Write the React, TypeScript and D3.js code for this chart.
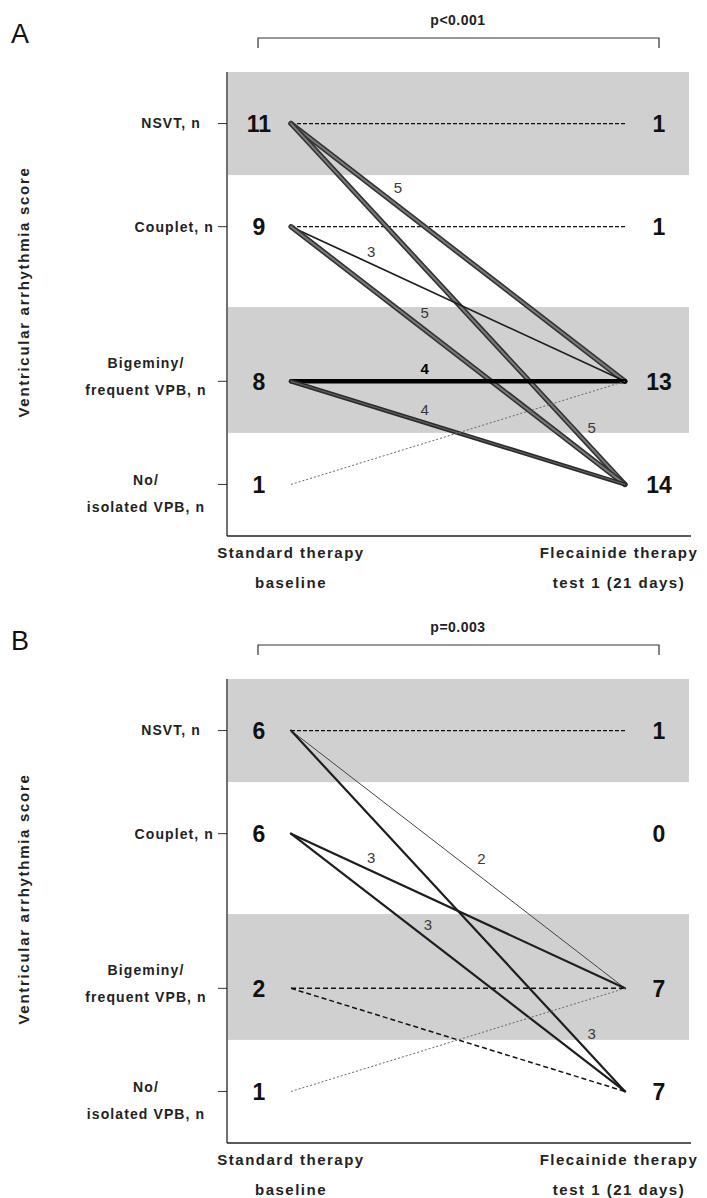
import * as d3 from "d3";

// categories, top to bottom
const categories = ["NSVT, n", "Couplet, n", "Bigeminy/\nfrequent VPB, n", "No/\nisolated VPB, n"];
const scoreLevels = [3.5, 2.5, 1, 0];
const timepoints = ["Standard therapy\nbaseline", "Flecainide therapy\ntest 1 (21 days)"];
const axisTitle = "Ventricular arrhythmia score";

// panel A
const baselineA = [11, 9, 8, 1];
const testA = [1, 1, 13, 14];
const flowsA = [
  [0, 0, 1],
  [1, 1, 1],
  [0, 2, 5],
  [0, 3, 5],
  [1, 2, 3],
  [1, 3, 5],
  [2, 2, 4],
  [2, 3, 4],
  [3, 2, 1],
];
const pA = "p<0.001";

// panel B
const baselineB = [6, 6, 2, 1];
const testB = [1, 0, 7, 7];
const flowsB = [
  [0, 0, 1],
  [0, 2, 2],
  [0, 3, 3],
  [1, 2, 3],
  [1, 3, 3],
  [2, 2, 1],
  [2, 3, 1],
  [3, 2, 1],
];
const pB = "p=0.003";

// shaded bands in score units
const bands = [
  [3, 4],
  [0.5, 1.72],
];

// line looks
const looks = {
  dash: [{ stroke: "#111", w: 1.3, dash: "4 2" }],
  dashB: [{ stroke: "#111", w: 1.5, dash: "5 3" }],
  dot: [{ stroke: "#666", w: 1, dash: "2 2" }],
  heavy: [
    { stroke: "#333", w: 5.2 },
    { stroke: "#7a7a7a", w: 2 },
  ],
  heavyDark: [
    { stroke: "#2a2a2a", w: 4.3 },
    { stroke: "#5e5e5e", w: 1.2 },
  ],
  black: [{ stroke: "#000", w: 4.5 }],
  thin: [{ stroke: "#1e1e1e", w: 1.7 }],
  hair: [{ stroke: "#444", w: 1 }],
  medium: [{ stroke: "#1e1e1e", w: 2.2 }],
};
const looksA = ["dash", "dash", "heavy", "heavy", "thin", "heavy", "black", "heavyDark", "dot"];
const looksB = ["dash", "hair", "medium", "medium", "medium", "dashB", "dashB", "dot"];
// where the count label sits along each line [t, dy]
const labelAtA = [null, null, [0.32, -18], [0.9, -21], [0.24, -12], [0.4, -17], [0.4, -13], [0.4, -13], null];
const labelAtB = [null, [0.57, -19], [0.9, -22], [0.24, -13], [0.41, -15], null, null, null];

const font = "'Liberation Sans', Arial, sans-serif";

const x = d3.scalePoint<number>().domain([0, 1]).range([291, 625]);
const y = d3.scaleLinear().domain([-0.5, 4]).range([536, 72]);
const axisX = 227;
const plotRight = 689;

function Panel({ letter, pText, baseline, test, flows, lookKeys, labelAt, dy }) {
  const y0 = y(4);
  const y1 = y(-0.5);
  return (
    <g transform={`translate(0,${dy})`} fontFamily={font}>
      <text x={11} y={43} fontSize={27} fill="#111">
        {letter}
      </text>
      <text x={458} y={25} fontSize={14} fontWeight="bold" textAnchor="middle" fill="#222" letterSpacing={0.5}>
        {pText}
      </text>
      <path d={`M258,48V38H659V48`} fill="none" stroke="#333" strokeWidth={1.2} />

      {bands.map(([a, b], i) => (
        <rect key={i} x={axisX + 1} y={y(b)} width={plotRight - axisX - 1} height={y(a) - y(b)} fill="#d0d0d0" />
      ))}

      {flows.map(([f, t], i) =>
        looks[lookKeys[i]].map((s, j) => (
          <line
            key={`${i}-${j}`}
            x1={x(0)}
            y1={y(scoreLevels[f])}
            x2={x(1)}
            y2={y(scoreLevels[t])}
            stroke={s.stroke}
            strokeWidth={s.w}
            strokeDasharray={s.dash}
            strokeLinecap={s.dash ? "butt" : "round"}
          />
        )),
      )}

      {flows.map(([f, t, n], i) => {
        const at = labelAt[i];
        if (!at) return null;
        const px = x(0) + (x(1) - x(0)) * at[0];
        const py = y(scoreLevels[f]) + (y(scoreLevels[t]) - y(scoreLevels[f])) * at[0] + at[1];
        const strong = lookKeys[i] === "black";
        return (
          <text
            key={i}
            x={px}
            y={py}
            dy="0.35em"
            textAnchor="middle"
            fontSize={15}
            fontWeight={strong ? "bold" : "normal"}
            fill={strong ? "#000" : "#3a3a3a"}
          >
            {n}
          </text>
        );
      })}

      {categories.map((c, i) => {
        const cy = y(scoreLevels[i]);
        const lines = c.split("\n");
        return (
          <g key={i}>
            <line x1={axisX - 9} x2={axisX} y1={cy} y2={cy} stroke="#333" strokeWidth={1} />
            {lines.length === 1 ? (
              <text
                x={i === 0 ? 201 : 214}
                y={cy}
                dy="0.35em"
                textAnchor="end"
                fontSize={14}
                fontWeight="bold"
                fill="#222"
                letterSpacing={1.1}
              >
                {c}
              </text>
            ) : (
              lines.map((l, k) => (
                <text
                  key={k}
                  x={146}
                  y={cy + (i === 2 ? -18 : -4) + k * 27}
                  dy="0.35em"
                  textAnchor="middle"
                  fontSize={14}
                  fontWeight="bold"
                  fill="#222"
                  letterSpacing={1.1}
                >
                  {l}
                </text>
              ))
            )}
            <text x={x(0) - 32} y={cy} dy="0.36em" textAnchor="middle" fontSize={23} fontWeight="bold" fill="#111">
              {baseline[i]}
            </text>
            <text x={x(1) + 34} y={cy} dy="0.36em" textAnchor="middle" fontSize={23} fontWeight="bold" fill="#111">
              {test[i]}
            </text>
          </g>
        );
      })}

      <line x1={axisX} x2={axisX} y1={y0} y2={y1} stroke="#222" strokeWidth={1.3} />
      <line x1={axisX} x2={plotRight + 2} y1={y1} y2={y1} stroke="#222" strokeWidth={1.3} />

      <text
        transform={`translate(29,${(y0 + y1) / 2 - 12}) rotate(-90)`}
        textAnchor="middle"
        fontSize={15}
        fontWeight="bold"
        fill="#222"
        letterSpacing={1.7}
      >
        {axisTitle}
      </text>

      {timepoints.map((tp, i) =>
        tp.split("\n").map((l, k) => (
          <text
            key={`${i}-${k}`}
            x={i === 0 ? x(0) : x(1) - 6}
            y={558 + k * 30}
            textAnchor="middle"
            fontSize={15}
            fontWeight="bold"
            fill="#222"
            letterSpacing={1.5}
          >
            {l}
          </text>
        )),
      )}
    </g>
  );
}

export default function App() {
  return (
    <svg
      width={707}
      height={1198}
      viewBox="0 0 707 1198"
      style={{ position: "absolute", left: 0, top: 0, background: "#fff" }}
    >
      <rect width={707} height={1198} fill="#fff" />
      <Panel
        letter="A"
        pText={pA}
        baseline={baselineA}
        test={testA}
        flows={flowsA}
        lookKeys={looksA}
        labelAt={labelAtA}
        dy={0}
      />
      <Panel
        letter="B"
        pText={pB}
        baseline={baselineB}
        test={testB}
        flows={flowsB}
        lookKeys={looksB}
        labelAt={labelAtB}
        dy={607}
      />
    </svg>
  );
}
